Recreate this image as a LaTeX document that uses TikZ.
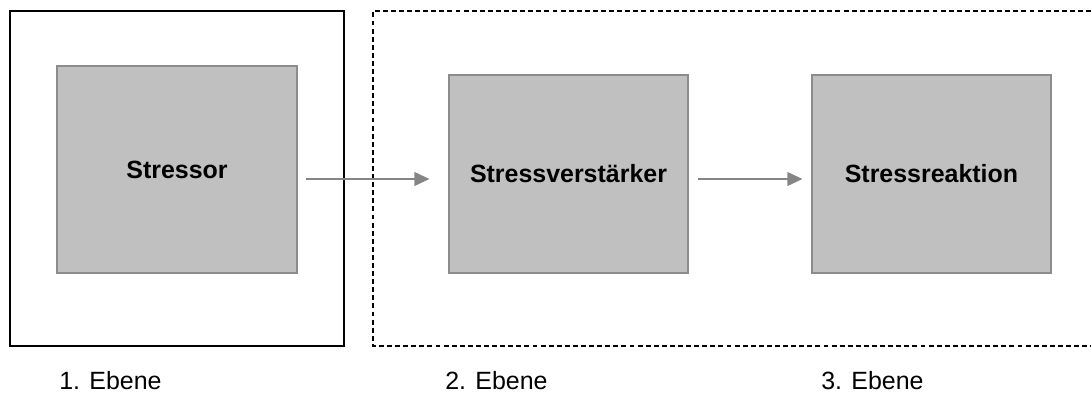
\documentclass[tikz,border=0pt]{standalone}
\usepackage{fontspec}
\setmainfont{Liberation Sans}
\usetikzlibrary{arrows.meta}
\definecolor{boxgrau}{HTML}{C0C0C0}
\definecolor{randgrau}{HTML}{8C8C8C}
\definecolor{pfeilgrau}{HTML}{858585}
\tikzset{
  ebenebox/.style={fill=boxgrau, draw=randgrau, line width=0.6pt, minimum width=4.8cm, font=\fontsize{14.2pt}{17pt}\selectfont\bfseries},
  pfeil/.style={draw=pfeilgrau, line width=1.3pt, -{Triangle[length=0.3cm,width=0.27cm]}},
  ebenelabel/.style={anchor=base west, inner sep=0pt, font=\fontsize{14.2pt}{17pt}\selectfont}
}
\begin{document}
\begin{tikzpicture}
    \useasboundingbox (0,0) rectangle (21.82,7.84);
    % Rahmen der Ebenen
    \draw[line width=0.8pt] (0.2,0.92) rectangle (6.88,7.62);
    \draw[line width=0.8pt, dash pattern=on 2.8pt off 1.8pt] (21.82,7.62) -| (7.46,0.92) -- (21.82,0.92);
    % Kaesten
    \node[ebenebox, minimum height=4.14cm] (stressor) at (3.54,4.45) {Stressor};
    \node[ebenebox, minimum width=4.78cm, minimum height=3.96cm] (verstaerker) at (11.37,4.36) {Stressverstärker};
    \node[ebenebox, minimum width=4.78cm, minimum height=3.96cm] (reaktion) at (18.63,4.36) {Stressreaktion};
    % Pfeile
    \coordinate (pfeilhoehe) at (0,4.26);
    \draw[pfeil, shorten <=0.16cm, shorten >=0.38cm] (stressor.east |- pfeilhoehe) -- (verstaerker.west |- pfeilhoehe);
    \draw[pfeil, shorten <=0.18cm, shorten >=0.18cm] (verstaerker.east |- pfeilhoehe) -- (reaktion.west |- pfeilhoehe);
    % Beschriftung
    \node[ebenelabel] (ebene1) at (1.18,0.06) {1. Ebene};
    \node[ebenelabel] (ebene2) at (8.9,0.06) {2. Ebene};
    \node[ebenelabel] (ebene3) at (16.42,0.06) {3. Ebene};
\end{tikzpicture}
\end{document}
